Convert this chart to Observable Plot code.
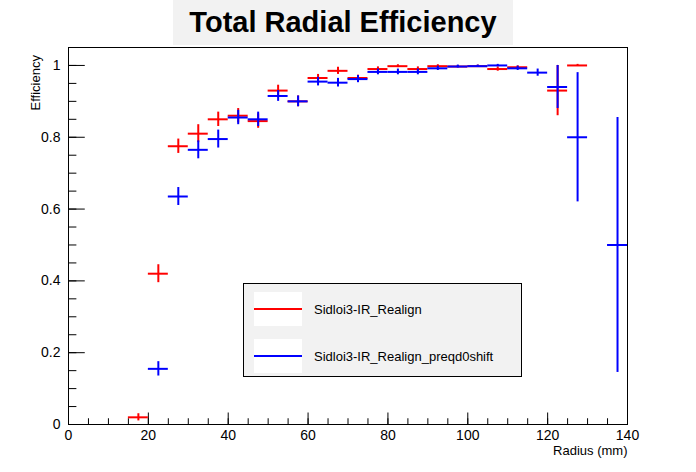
<!DOCTYPE html>
<html><head>
<script src="https://cdn.jsdelivr.net/npm/d3@7"></script>
<script src="https://cdn.jsdelivr.net/npm/@observablehq/plot@0.6"></script>
<style>
body{margin:0;background:#fff;font-family:"Liberation Sans",Arial,sans-serif}
#wrap{position:relative;width:696px;height:472px}
#title{position:absolute;left:173px;top:0;width:340px;height:45px;background:#f2f2f2;font-weight:bold;font-size:29px;text-align:center;line-height:45px}
#legend{position:absolute;left:243px;top:283px;width:277px;height:92px;background:#f2f2f2;border:1px solid #000;font-size:13px}
.row{position:absolute;left:10px;height:26px;width:265px}
.sw{position:absolute;left:0;top:0;width:48px;height:34px;background:#fff}
.sw i{position:absolute;left:0;top:16px;width:48px;height:2px}
.row span{position:absolute;left:60px;top:10px}
</style></head><body>
<div id="wrap"><div id="chart"></div>
<div id="title">Total Radial Efficiency</div>
<div id="legend">
 <div class="row" style="top:8px"><div class="sw"><i style="background:#f00"></i></div><span>Sidloi3-IR_Realign</span></div>
 <div class="row" style="top:55px"><div class="sw"><i style="background:#00f"></i></div><span>Sidloi3-IR_Realign_preqd0shift</span></div>
</div></div>
<script>
const redX = [17.5,22.5,27.5,32.5,37.5,42.5,47.5,52.5,57.5,62.5,67.5,72.5,77.5,82.5,87.5,92.5,97.5,102.5,107.5,112.5,122.5,127.5]
const redY = [0.02,0.42,0.775,0.81,0.85,0.86,0.845,0.93,0.90,0.965,0.985,0.965,0.99,0.998,0.99,0.998,0.997,0.998,0.99,0.995,0.93,1.0]
const redE = [0.01,0.025,0.02,0.025,0.02,0.02,0.02,0.015,0.015,0.01,0.01,0.008,0.006,0.004,0.006,0.004,0.003,0.003,0.006,0.004,0.07,0.003]
const blueX = [22.5,27.5,32.5,37.5,42.5,47.5,52.5,57.5,62.5,67.5,72.5,77.5,82.5,87.5,92.5,97.5,102.5,107.5,112.5,117.5,122.5,127.5,137.5]
const blueY = [0.155,0.635,0.765,0.795,0.855,0.85,0.915,0.90,0.955,0.952,0.962,0.982,0.982,0.982,0.992,0.997,0.998,1.0,0.992,0.98,0.94,0.80,0.50]
const blueE = [0.02,0.025,0.025,0.025,0.02,0.02,0.015,0.015,0.012,0.012,0.01,0.008,0.008,0.008,0.006,0.004,0.003,0.003,0.006,0.01,0.06,0.18,0.355]
const binW = 5

const mk = (xs, ys, es) => xs.map((x, i) => ({x, y: ys[i], e: es[i]}))
const red = mk(redX, redY, redE), blue = mk(blueX, blueY, blueE)
const xMajor = d3.range(0, 141, 20), xMinor = d3.range(0, 141, 5)
const yMajor = d3.range(0, 1.01, 0.2), yMinor = d3.range(0, 1.051, 0.05)

const series = (data, color) => [
  Plot.ruleY(data, {y: "y", x1: d => d.x - binW / 2, x2: d => d.x + binW / 2, stroke: color, strokeWidth: 2}),
  Plot.ruleX(data, {x: "x", y1: d => Math.max(0, d.y - d.e), y2: d => Math.min(1.05, d.y + d.e), stroke: color, strokeWidth: 2})
]

const chart = Plot.plot({
  width: 696, height: 472,
  marginLeft: 68, marginRight: 69, marginTop: 47, marginBottom: 48,
  style: {fontFamily: "Liberation Sans, Arial, sans-serif", fontSize: "13px", color: "#000"},
  x: {domain: [0, 140]},
  y: {domain: [0, 1.05]},
  marks: [
    Plot.frame({stroke: "#000"}),
    Plot.ruleX(xMinor, {x: d => d, y1: 0, y2: 0.016, stroke: "#000"}),
    Plot.ruleX(xMajor, {x: d => d, y1: 0, y2: 0.032, stroke: "#000"}),
    Plot.ruleY(yMinor, {y: d => d, x1: 0, x2: 2.1, stroke: "#000"}),
    Plot.ruleY(yMajor, {y: d => d, x1: 0, x2: 4.2, stroke: "#000"}),
    Plot.axisX(xMajor, {tickSize: 0, tickPadding: 6, label: null, fontSize: 14}),
    Plot.axisY(yMajor, {tickSize: 0, tickPadding: 8, label: null, fontSize: 14, tickFormat: d => d === 0 ? "0" : d === 1 ? "1" : d3.format(".1f")(d)}),
    Plot.text(["Radius (mm)"], {frameAnchor: "bottom-right", dy: 30, text: d => d, fontSize: 13}),
    Plot.text(["Efficiency"], {frameAnchor: "top-left", dx: -38, dy: 63, rotate: -90, text: d => d, fontSize: 13}),
    ...series(red, "#f00"),
    ...series(blue, "#00f")
  ]
})
d3.select('#chart').append(() => chart)
</script></body></html>
